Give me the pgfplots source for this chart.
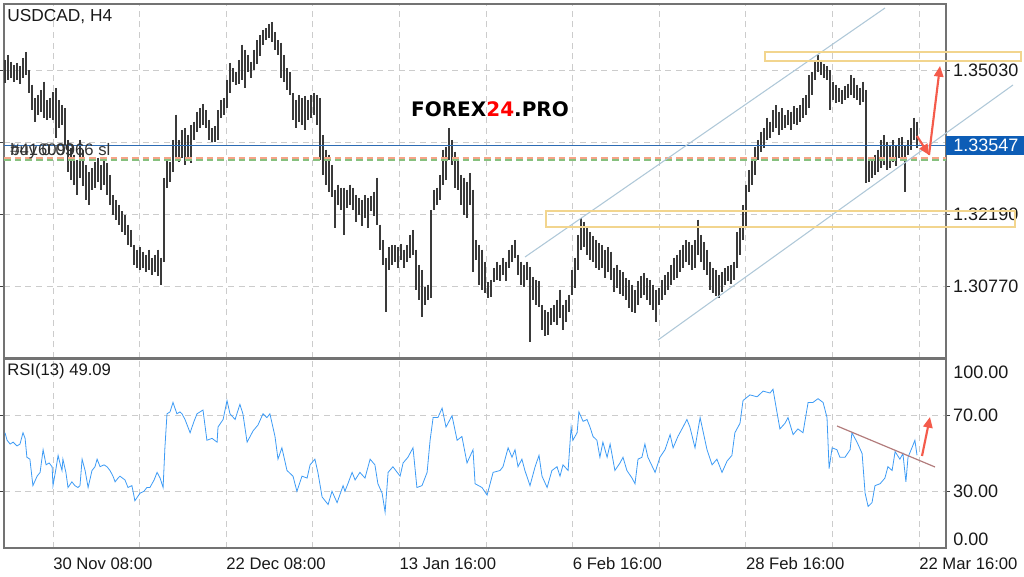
\documentclass[border=0pt]{standalone}
\usepackage{pgfplots}
\pgfplotsset{compat=1.18}
\usepackage{pgfplotstable}
\usepackage{fontspec}
\setmainfont{Liberation Sans}
\newfontfamily\logofont{DejaVu Sans}
\usetikzlibrary{arrows.meta}
\definecolor{gridc}{HTML}{CCCCCC}
\definecolor{barc}{HTML}{3A3A3A}
\definecolor{rsic}{HTML}{3D9BF5}
\definecolor{chan}{HTML}{AFC8D8}
\definecolor{boxc}{HTML}{F2D58E}
\definecolor{arr}{HTML}{F45B4B}
\definecolor{bluel}{HTML}{2D6CB4}
\definecolor{blueb}{HTML}{0D5DB6}
\definecolor{salm}{HTML}{F6A487}
\definecolor{grn}{HTML}{86C07E}
\definecolor{trend}{HTML}{B27C7C}
\newcommand\lab{\fontsize{12.5}{15}\selectfont}
\newcommand\rlab{\fontsize{13.5}{16}\selectfont}

\pgfplotstableread{
h l
1.3523 1.3478
1.3533 1.3484
1.3519 1.3488
1.3513 1.3480
1.3517 1.3484
1.3511 1.3476
1.3527 1.3488
1.3539 1.3493
1.3503 1.3458
1.3474 1.3424
1.3448 1.3401
1.3454 1.3415
1.3464 1.3421
1.3480 1.3409
1.3444 1.3405
1.3448 1.3409
1.3460 1.3405
1.3468 1.3369
1.3444 1.3389
1.3434 1.3395
1.3428 1.3356
1.3365 1.3302
1.3350 1.3287
1.3336 1.3277
1.3326 1.3257
1.3365 1.3291
1.3346 1.3275
1.3316 1.3247
1.3302 1.3237
1.3310 1.3267
1.3322 1.3271
1.3330 1.3283
1.3316 1.3267
1.3326 1.3277
1.3320 1.3257
1.3296 1.3237
1.3257 1.3218
1.3247 1.3208
1.3237 1.3198
1.3224 1.3184
1.3218 1.3178
1.3198 1.3158
1.3188 1.3153
1.3158 1.3119
1.3149 1.3113
1.3153 1.3109
1.3145 1.3113
1.3139 1.3105
1.3149 1.3109
1.3133 1.3099
1.3139 1.3105
1.3149 1.3097
1.3133 1.3080
1.3291 1.3125
1.3326 1.3271
1.3322 1.3283
1.3365 1.3302
1.3415 1.3326
1.3365 1.3322
1.3385 1.3330
1.3389 1.3316
1.3375 1.3326
1.3395 1.3320
1.3401 1.3365
1.3421 1.3381
1.3428 1.3389
1.3436 1.3395
1.3424 1.3389
1.3405 1.3365
1.3389 1.3362
1.3393 1.3362
1.3424 1.3365
1.3444 1.3409
1.3448 1.3415
1.3484 1.3428
1.3517 1.3458
1.3507 1.3480
1.3499 1.3474
1.3523 1.3476
1.3553 1.3484
1.3543 1.3468
1.3533 1.3499
1.3519 1.3488
1.3543 1.3503
1.3562 1.3515
1.3572 1.3531
1.3582 1.3553
1.3586 1.3562
1.3594 1.3566
1.3598 1.3558
1.3578 1.3543
1.3562 1.3533
1.3557 1.3488
1.3533 1.3480
1.3507 1.3464
1.3499 1.3454
1.3458 1.3405
1.3444 1.3389
1.3454 1.3401
1.3448 1.3395
1.3452 1.3385
1.3444 1.3405
1.3454 1.3409
1.3458 1.3415
1.3454 1.3395
1.3448 1.3326
1.3375 1.3296
1.3346 1.3277
1.3336 1.3263
1.3316 1.3253
1.3267 1.3192
1.3277 1.3237
1.3271 1.3227
1.3271 1.3178
1.3267 1.3231
1.3277 1.3237
1.3271 1.3227
1.3257 1.3204
1.3251 1.3218
1.3247 1.3196
1.3257 1.3212
1.3251 1.3192
1.3255 1.3224
1.3263 1.3216
1.3291 1.3198
1.3198 1.3149
1.3168 1.3119
1.3133 1.3026
1.3153 1.3109
1.3158 1.3119
1.3157 1.3125
1.3153 1.3113
1.3160 1.3129
1.3149 1.3113
1.3158 1.3125
1.3178 1.3133
1.3188 1.3139
1.3149 1.3070
1.3119 1.3050
1.3109 1.3016
1.3076 1.3040
1.3080 1.3050
1.3227 1.3054
1.3267 1.3227
1.3271 1.3237
1.3296 1.3247
1.3346 1.3277
1.3352 1.3287
1.3389 1.3326
1.3365 1.3316
1.3342 1.3271
1.3326 1.3267
1.3296 1.3237
1.3291 1.3218
1.3283 1.3212
1.3300 1.3237
1.3267 1.3105
1.3168 1.3129
1.3158 1.3080
1.3149 1.3070
1.3125 1.3064
1.3084 1.3054
1.3089 1.3056
1.3113 1.3084
1.3125 1.3089
1.3119 1.3086
1.3133 1.3099
1.3125 1.3086
1.3149 1.3113
1.3158 1.3125
1.3168 1.3133
1.3139 1.3099
1.3125 1.3080
1.3119 1.3076
1.3125 1.3089
1.3115 1.2966
1.3095 1.3050
1.3089 1.3040
1.3086 1.3036
1.3040 1.2990
1.3030 1.2978
1.3026 1.2980
1.3034 1.3000
1.3040 1.3006
1.3050 1.3000
1.3070 1.3014
1.3040 1.2990
1.3050 1.3006
1.3060 1.3026
1.3109 1.3060
1.3133 1.3074
1.3178 1.3109
1.3212 1.3149
1.3204 1.3153
1.3192 1.3139
1.3184 1.3129
1.3176 1.3125
1.3168 1.3113
1.3162 1.3109
1.3157 1.3113
1.3149 1.3093
1.3153 1.3105
1.3145 1.3089
1.3113 1.3066
1.3119 1.3074
1.3109 1.3062
1.3105 1.3058
1.3093 1.3050
1.3089 1.3034
1.3080 1.3026
1.3070 1.3024
1.3086 1.3040
1.3097 1.3054
1.3103 1.3060
1.3093 1.3050
1.3089 1.3040
1.3080 1.3030
1.3070 1.3006
1.3074 1.3040
1.3089 1.3050
1.3099 1.3060
1.3105 1.3070
1.3119 1.3080
1.3133 1.3089
1.3139 1.3093
1.3149 1.3105
1.3158 1.3113
1.3168 1.3125
1.3164 1.3119
1.3158 1.3109
1.3168 1.3113
1.3208 1.3139
1.3178 1.3125
1.3164 1.3109
1.3149 1.3099
1.3125 1.3070
1.3113 1.3064
1.3109 1.3058
1.3099 1.3054
1.3105 1.3066
1.3113 1.3080
1.3117 1.3086
1.3119 1.3082
1.3125 1.3089
1.3184 1.3113
1.3192 1.3139
1.3237 1.3168
1.3277 1.3192
1.3306 1.3263
1.3326 1.3277
1.3352 1.3296
1.3365 1.3326
1.3381 1.3342
1.3389 1.3350
1.3409 1.3365
1.3401 1.3369
1.3424 1.3381
1.3434 1.3389
1.3421 1.3375
1.3428 1.3385
1.3415 1.3389
1.3424 1.3395
1.3421 1.3385
1.3432 1.3396
1.3428 1.3395
1.3434 1.3401
1.3448 1.3409
1.3454 1.3415
1.3493 1.3428
1.3499 1.3454
1.3519 1.3484
1.3533 1.3499
1.3523 1.3493
1.3515 1.3488
1.3511 1.3484
1.3503 1.3424
1.3480 1.3444
1.3474 1.3438
1.3468 1.3440
1.3464 1.3436
1.3472 1.3444
1.3476 1.3448
1.3493 1.3454
1.3488 1.3448
1.3474 1.3444
1.3468 1.3434
1.3480 1.3440
1.3464 1.3281
1.3326 1.3283
1.3330 1.3291
1.3336 1.3295
1.3346 1.3302
1.3365 1.3310
1.3375 1.3316
1.3362 1.3306
1.3356 1.3310
1.3365 1.3322
1.3356 1.3314
1.3369 1.3330
1.3371 1.3326
1.3356 1.3263
1.3365 1.3336
1.3389 1.3346
1.3409 1.3365
1.3401 1.3350
}\bars

\pgfplotstableread{
x v
0 61
0.7 57
1.7 55
2.7 56
4 54
5 55
6 61
6.7 58
7.3 48
8.3 47
9.3 33
10.7 38
11.7 40
12.7 52
13.7 44
14.7 45
15.7 43
16 33
17 42
17.7 49
18.3 45
19 41
19.3 47
20.3 40
21 32
22.3 35
23.3 33
24.3 32
25 33
25.7 47
26.7 41
27.7 32
29 41
30 43
30.7 47
31.7 43
33 44
34 43
35 41
36 38
36.7 35
37.7 37
38.3 38
40 36
41 32
42.3 33
43.3 25
45 29
46.3 30
47.3 32
48.3 32
49.7 36
50.7 40
51.7 37
52.7 32
53.3 53
54 71
55 72
56 77
57.3 71
58.3 72
59 71
60 68
61.7 61
63 67
64 71
66 73
67.3 57
69 58
70.7 56
71 64
72.7 68
74 78
75 71
76.7 68
78.3 76
79.3 71
80.7 56
82.7 62
84.3 65
86 71
87.3 69
88.3 71
90 59
91 47
92.3 53
94 41
96 38
97.3 30
99 38
100.7 37
101.7 44
103.3 47
104.3 40
105.7 27
107.7 23
109 30
110.7 24
112.7 33
113.3 30
114.3 34
115.7 40
116.7 36
118.3 40
120 37
121.7 47
123.3 44
124.3 34
125.7 29
126.7 19
127.7 40
129.3 43
131.7 38
132.7 45
134.3 48
136 53
137.3 32
139 33
140.7 40
141.7 57
142.7 69
144.3 69
145.7 74
147 64
149 70
150.7 57
152.3 59
154 45
156 52
156.7 34
159 32
160.7 28
162.7 40
165 41
166 43
167.7 53
169 48
170 52
171 43
172.3 47
173.3 41
175 33
176.7 43
178 49
179 38
180.7 32
182.3 41
184 43
185 38
186 44
187.7 41
188.7 64
189.3 57
190.7 61
191.3 72
192.7 67
194 68
195 64
196 59
197.3 57
198.3 48
199.3 56
200.7 48
201.7 55
203.3 41
205 45
206 48
207.3 41
209 37
210 34
211 47
212.3 48
213.3 55
214.3 48
216.7 40
218.3 48
220 52
221.7 60
222.7 53
224.3 59
226 64
227.3 68
228.3 64
230 53
231.7 69
234 52
235.7 44
237.3 47
239 40
240.7 46
242.3 49
243.3 61
245 66
246 78
248.3 81
250.7 80
252.7 83
255 82
256 84
257.3 72
258.3 63
260 66
261 69
262.7 60
264.3 63
266 61
267.7 77
269.3 77
271 79
272.7 77
274 69
274.7 42
275.7 53
277.3 52
278.3 48
280 48
281.7 52
282.3 61
284 56
285.7 50
286.7 29
287.7 22
289 24
290 33
291.7 34
293.3 37
294.3 43
295.7 41
296.7 51
298.3 47
299.3 50
300.3 35
301 48
302.3 53
303.3 57
304 49.09
}\rsi

\begin{document}
\begin{tikzpicture}
\useasboundingbox (0,0) rectangle (768pt,432.75pt);
\pgfplotsset{
  every axis/.append style={
    scale only axis,
    anchor=south west,
    xmin=-0.3333, xmax=313.6667,
    width=706.5pt,
    xtick={16,44.87,73.73,102.6,131.47,160.33,189.2,218.07,246.93,275.8,304.67},
    xmajorgrids, ymajorgrids,
    grid style={gridc, line width=0.7pt, dash pattern=on 4.5pt off 3.5pt},
    axis line style={black!55, line width=0.8pt},
    yticklabel pos=right,
    tick align=outside,
    major tick length=3pt,
    y tick style={black!75, line width=0.7pt},
    x tick style={draw=none},
    yticklabel style={font=\rlab, text=black!90, anchor=west, inner sep=0pt, xshift=2.2pt},
  }
}
\begin{axis}[at={(3pt,164.25pt)}, height=265.5pt,
  ymin=1.29351, ymax=1.36332,
  xticklabels={},
  ytick={1.3077,1.3219,1.3361,1.3503},
  yticklabels={1.30770,1.32190,,1.35030},
]
\addplot[quiver={u=0,v=\thisrow{l}-\thisrow{h}}, draw=barc, line width=0.95pt]
  table[x expr=\coordindex, y=h] {\bars};
\addplot[bluel, line width=0.75pt] coordinates {(-0.3333,1.33547) (313.6667,1.33547)};
\addplot[salm, line width=1.3pt, dash pattern=on 5pt off 3pt] coordinates {(-0.3333,1.3329) (313.6667,1.3329)};
\addplot[grn, line width=1.3pt, dash pattern=on 5pt off 3pt] coordinates {(-0.3333,1.3325) (313.6667,1.3325)};
\end{axis}
\begin{axis}[at={(3pt,21.75pt)}, height=141.75pt,
  ymin=0, ymax=100,
  ytick={30,70},
  yticklabels={30.00,70.00},
  xticklabels={30 Nov 08:00,,22 Dec 08:00,,13 Jan 16:00,,6 Feb 16:00,,28 Feb 16:00,,22 Mar 16:00},
  xticklabel style={font=\lab, text=black!90, anchor=north west, inner sep=0pt, yshift=-4pt},
]
\addplot[rsic, line width=0.6pt] table[x=x, y=v] {\rsi};
\end{axis}
\begin{scope}[x=0.75pt, y=-0.75pt, shift={(0pt,432.75pt)}]
  % channel lines
  \draw[chan, line width=0.8pt] (525,257) -- (885,8);
  \draw[chan, line width=0.8pt] (658,340) -- (1013,85);
  % zones
  \draw[boxc, line width=0.9pt] (765,52) rectangle (1021,61);
  \draw[boxc, line width=0.9pt] (546,211) rectangle (1015,227);
  % arrows
  \draw[arr, line width=1.6pt, -{Triangle[length=8pt,width=7pt]}] (917,136) -- (929,155);
  \draw[arr, line width=1.6pt, -{Triangle[length=8pt,width=7pt]}] (929,155) -- (940,66);
  \draw[arr, line width=1.6pt, -{Triangle[length=8pt,width=7pt]}] (922,456) -- (930,417);
  \draw[trend, line width=0.9pt] (837,426) -- (935,467);
  % price box
  \fill[blueb] (946,136) rectangle (1024,155);
  \node[anchor=west, inner sep=0pt, text=white, font=\rlab] at (953,145.5) {1.33547};
  % RSI edge labels
  \node[anchor=west, inner sep=0pt, text=black!90, font=\rlab] at (953,372) {100.00};
  \node[anchor=west, inner sep=0pt, text=black!90, font=\rlab] at (953,539) {0.00};
  % titles
  \node[anchor=west, inner sep=0pt, text=black!90, font=\fontsize{13}{15}\selectfont] at (7,17) {USDCAD, H4};
  \node[anchor=west, inner sep=0pt, text=black!90, font=\lab] at (7,371) {RSI(13) 49.09};
  \node[anchor=west, inner sep=0pt, text=black!80, font=\lab] at (10,150) {\#41609966 sl};
  \node[anchor=west, inner sep=0pt, text=black!80, font=\lab] at (10,151) {buy 0.09};
  % logo
  \node[anchor=center, inner sep=0pt, font=\logofont\bfseries\fontsize{15}{17}\selectfont] at (490,109) {FOREX\textcolor{red}{24}.PRO};
\end{scope}
\end{tikzpicture}
\end{document}
